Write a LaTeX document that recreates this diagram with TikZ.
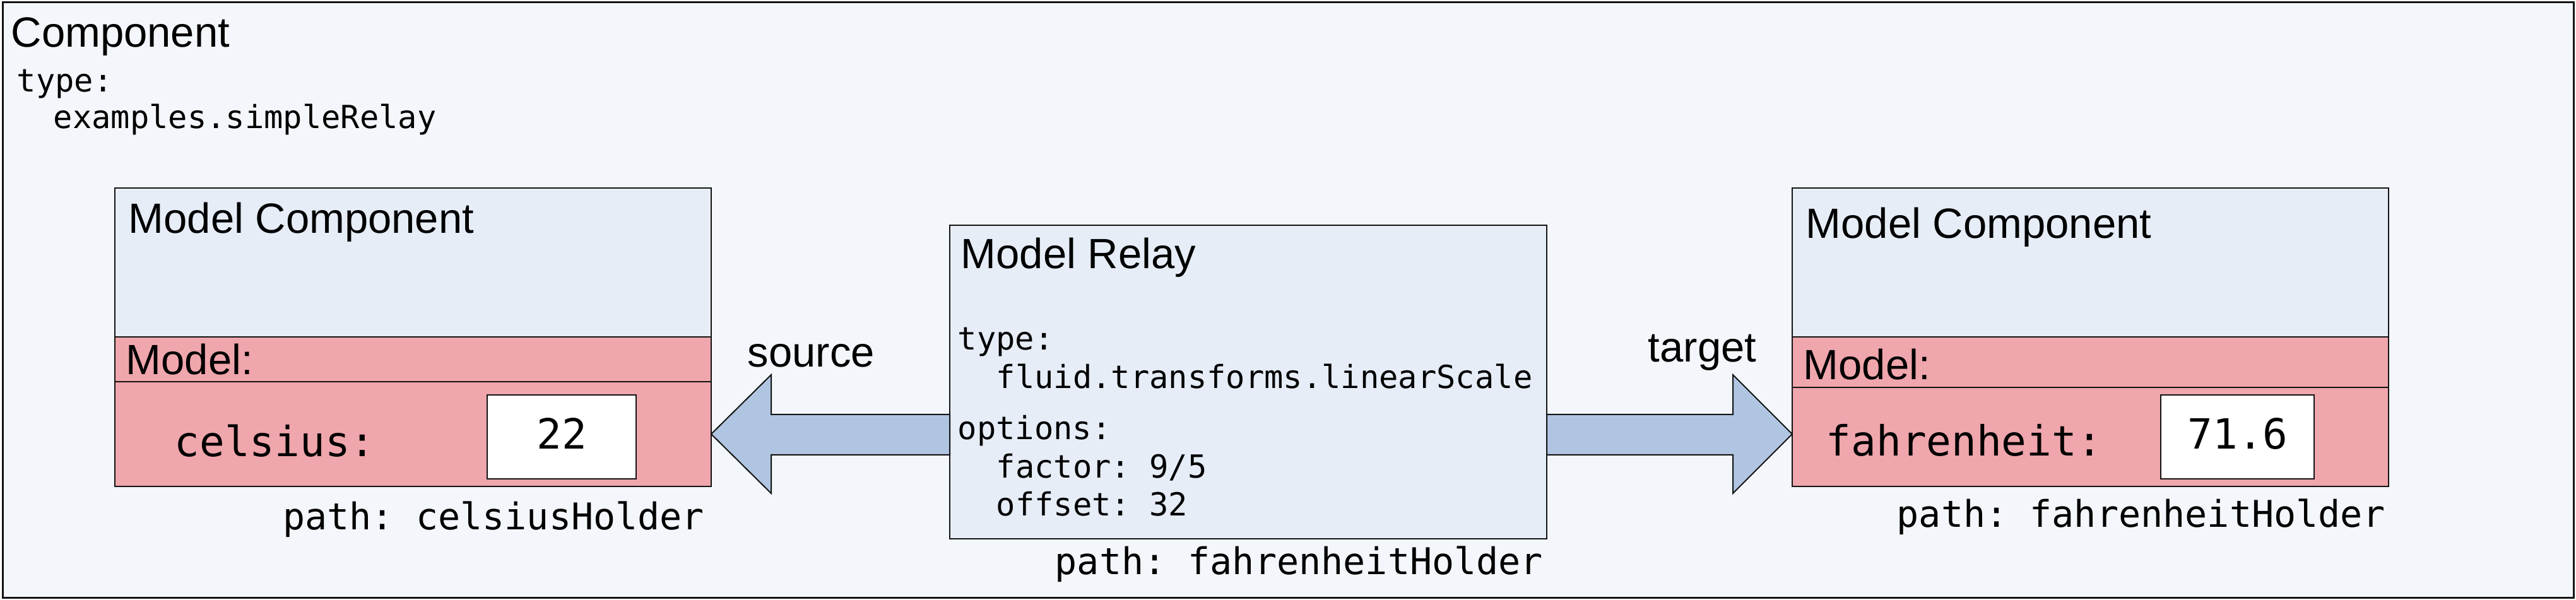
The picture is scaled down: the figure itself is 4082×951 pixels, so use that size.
\documentclass[tikz,border=0pt]{standalone}
\usepackage{fontspec}
\setmainfont{Liberation Sans}
\setmonofont{DejaVu Sans Mono}
\usetikzlibrary{fit}
\definecolor{bgcol}{RGB}{243,246,251}
\definecolor{boxblue}{RGB}{230,237,247}
\definecolor{boxred}{RGB}{239,166,172}
\definecolor{arrowblue}{RGB}{176,197,226}
\definecolor{edge}{RGB}{20,20,20}
\tikzset{
  outerbox/.style={inner sep=0pt, outer sep=0pt, draw=edge, line width=0.75pt, fill=bgcol},
  bluebox/.style={inner sep=0pt, outer sep=0pt, draw=edge, line width=0.5pt, fill=boxblue},
  redbox/.style={inner sep=0pt, outer sep=0pt, draw=edge, line width=0.5pt, fill=boxred},
  valbox/.style={inner sep=0pt, outer sep=0pt, draw=edge, line width=0.5pt, fill=white},
  blockarrow/.style={draw=edge, line width=0.5pt, fill=arrowblue, line join=miter},
  title/.style={font=\fontsize{16.75pt}{20pt}\selectfont, inner sep=0pt, anchor=base west},
  code/.style={font=\ttfamily\fontsize{12.6pt}{15pt}\selectfont, inner sep=0pt, anchor=base west},
  pathtxt/.style={font=\ttfamily\fontsize{14.6pt}{17pt}\selectfont, inner sep=0pt, anchor=base east},
  field/.style={font=\ttfamily\fontsize{16.5pt}{20pt}\selectfont, inner sep=0pt, anchor=base west},
  valtxt/.style={font=\ttfamily\fontsize{16.5pt}{20pt}\selectfont, inner sep=0pt, anchor=base},
}
\begin{document}
\begin{tikzpicture}[x=0.25pt,y=-0.25pt]
\useasboundingbox (0,0) rectangle (4082,951);
% outer component
\coordinate (o1) at (4,4); \coordinate (o2) at (4078,947);
\node[outerbox, fit=(o1)(o2)] (C) {};
\node[title] (Ctitle) at (17,75) {Component};
\node[code] (Ctype) at (26,146) {type:};
\node[code] (Ctypev) at (84,204) {examples.simpleRelay};

% left model component
\coordinate (l1) at (182,298); \coordinate (l2) at (1127,534);
\coordinate (l3) at (182,605); \coordinate (l4) at (1127,771);
\node[bluebox, fit=(l1)(l2)] (Ltop) {};
\node[redbox, fit=(l2)(l3)] (Lband) {};
\node[redbox, fit=(l3)(l4)] (Lbot) {};
\coordinate (lv1) at (772,626); \coordinate (lv2) at (1008,759);
\node[valbox, fit=(lv1)(lv2)] (Lval) {};
\node[title] (Ltitle) at (203,370) {Model Component};
\node[title] (Lmodel) at (199,594) {Model:};
\node[field] (Lfield) at (276,724) {celsius:};
\node[valtxt] (Lnum) at (890,712) {22};
\node[pathtxt] (Lpath) at (1117,839) {path: celsiusHolder};

% right model component
\coordinate (r1) at (2840,298); \coordinate (r2) at (3785,534);
\coordinate (r3) at (2840,614); \coordinate (r4) at (3785,771);
\node[bluebox, fit=(r1)(r2)] (Rtop) {};
\node[redbox, fit=(r2)(r3)] (Rband) {};
\node[redbox, fit=(r3)(r4)] (Rbot) {};
\coordinate (rv1) at (3424,626); \coordinate (rv2) at (3667,759);
\node[valbox, fit=(rv1)(rv2)] (Rval) {};
\node[title] (Rtitle) at (2861,378) {Model Component};
\node[title] (Rmodel) at (2857,602) {Model:};
\node[field] (Rfield) at (2893,723) {fahrenheit:};
\node[valtxt] (Rnum) at (3546,712) {71.6};
\node[pathtxt] (Rpath) at (3780,835) {path: fahrenheitHolder};

% relay
\coordinate (m1) at (1505,357); \coordinate (m2) at (2451,854);
\node[bluebox, fit=(m1)(m2)] (M) {};
\node[title] (Mtitle) at (1522,426) {Model Relay};
\node[code] (Mtype) at (1517,555) {type:};
\node[code] (Mtypev) at (1578,615) {fluid.transforms.linearScale};
\node[code] (Mopt) at (1517,697) {options:};
\node[code] (Mfac) at (1578,758) {factor: 9/5};
\node[code] (Moff) at (1578,817) {offset: 32};
\node[pathtxt] (Mpath) at (2446,910) {path: fahrenheitHolder};

% arrows
\coordinate (ya) at (0,657); \coordinate (yb) at (0,721); \coordinate (yc) at (0,688);
\draw[blockarrow] (M.west |- ya) -- (1222,657) -- (1222,594) -- (Lbot.east |- yc)
   -- (1222,782) -- (1222,721) -- (M.west |- yb) -- cycle;
\draw[blockarrow] (M.east |- ya) -- (2746,657) -- (2746,594) -- (Rbot.west |- yc)
   -- (2746,782) -- (2746,721) -- (M.east |- yb) -- cycle;
\node[title] (src) at (1184,582) {source};
\node[title] (tgt) at (2611,574) {target};
\end{tikzpicture}
\end{document}
